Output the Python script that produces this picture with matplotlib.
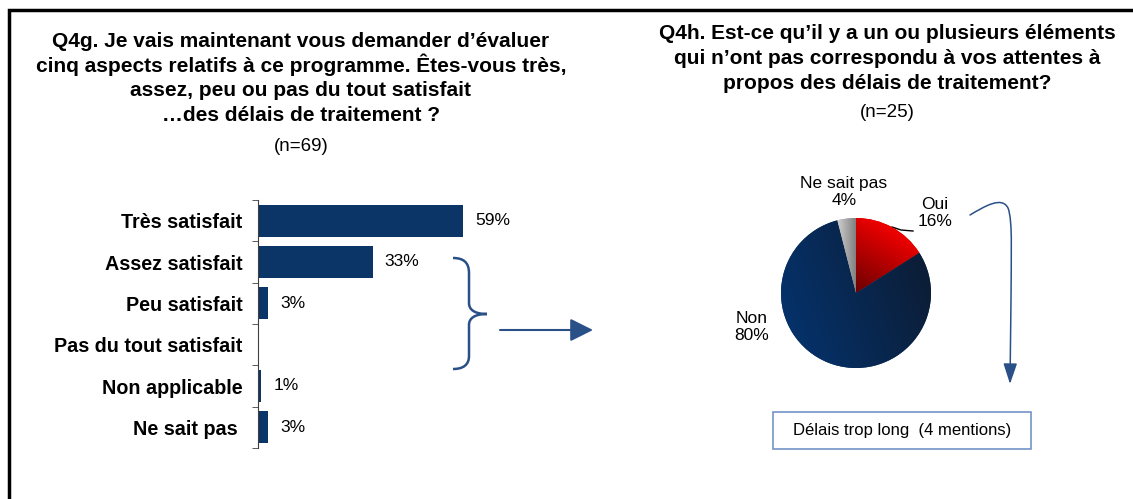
import numpy as np
import matplotlib
matplotlib.use('Agg')
import matplotlib.pyplot as plt
from matplotlib.path import Path
from matplotlib.patches import FancyArrowPatch, PathPatch, Rectangle
from matplotlib.colors import LinearSegmentedColormap

plt.rcParams['font.family'] = ['Liberation Sans', 'DejaVu Sans']

# Q4g - satisfaction bars
bar_labels = ['Très satisfait', 'Assez satisfait', 'Peu satisfait',
              'Pas du tout satisfait', 'Non applicable', 'Ne sait pas ']
bar_values = [59, 33, 3, 0, 1, 3]

# Q4h - pie
pie_labels = ['Oui', 'Non', 'Ne sait pas']
pie_values = [16, 80, 4]

title_left = ['Q4g. Je vais maintenant vous demander d\u2019évaluer',
              'cinq aspects relatifs à ce programme. Êtes-vous très,',
              'assez, peu ou pas du tout satisfait',
              '\u2026des délais de traitement ?']
n_left = '(n=69)'
title_right = ['Q4h. Est-ce qu\u2019il y a un ou plusieurs éléments',
               'qui n\u2019ont pas correspondu à vos attentes à',
               'propos des délais de traitement?']
n_right = '(n=25)'
note = 'Délais trop long  (4 mentions)'

navy = '#0A3566'
blue = '#2A5088'

W, H = 1133, 499
fig = plt.figure(figsize=(W / 100, H / 100), dpi=100)

# overlay axes in pixel coordinates (y down) for titles, arrows, frame
ax0 = fig.add_axes([0, 0, 1, 1])
ax0.set_xlim(0, W)
ax0.set_ylim(H, 0)
ax0.axis('off')

ax0.plot([8.5, 8.5, W], [H, 10, 10], color='black', lw=2.5,
         solid_joinstyle='miter', clip_on=False)

for i, line in enumerate(title_left):
    ax0.text(301, 47 + 24.5 * i, line, ha='center', va='baseline',
             fontsize=15, fontweight='bold')
ax0.text(301, 151, n_left, ha='center', va='baseline', fontsize=13.5)

for i, line in enumerate(title_right):
    ax0.text(887, 39 + 25 * i, line, ha='center', va='baseline',
             fontsize=15, fontweight='bold')
ax0.text(887, 117, n_right, ha='center', va='baseline', fontsize=13.5)

# bar chart
px = 3.475  # pixels per percent
ax = fig.add_axes([258 / W, (H - 448) / H, 60 * px / W, 248 / H])
y = np.arange(len(bar_values))
ax.barh(y, bar_values, height=0.77, color=navy)
ax.set_xlim(0, 60)
ax.set_ylim(len(y) - 0.5, -0.5)
for s in ['top', 'right', 'bottom']:
    ax.spines[s].set_visible(False)
ax.spines['left'].set_color('#404040')
ax.set_xticks([])
ax.set_yticks(y)
ax.set_yticklabels(bar_labels, fontsize=14.2, fontweight='bold')
ax.tick_params(axis='y', which='major', length=0, pad=11)
ax.set_yticks(np.arange(len(y) + 1) - 0.5, minor=True)
ax.tick_params(axis='y', which='minor', length=4.5, color='#404040')
ax.patch.set_visible(False)
for yi, v in zip(y, bar_values):
    if v > 0:
        ax.annotate(f'{v}%', (v, yi), xytext=(12, 0), textcoords='offset pixels',
                    va='center', fontsize=12.5)

# brace + arrow
brace = Path([(453, 258), (463, 258), (469, 262), (469, 273),
              (469, 303),
              (469, 310), (475, 314), (487, 314),
              (475, 314), (469, 318), (469, 325),
              (469, 356),
              (469, 365), (463, 369), (453, 369)],
             [Path.MOVETO, Path.CURVE4, Path.CURVE4, Path.CURVE4,
              Path.LINETO,
              Path.CURVE4, Path.CURVE4, Path.CURVE4,
              Path.CURVE4, Path.CURVE4, Path.CURVE4,
              Path.LINETO,
              Path.CURVE4, Path.CURVE4, Path.CURVE4])
ax0.add_patch(PathPatch(brace, fill=False, ec=blue, lw=1.8))
ax0.add_patch(FancyArrowPatch((500, 330), (593, 330),
                              arrowstyle='-|>,head_length=1.0,head_width=0.5',
                              mutation_scale=14, color=blue, lw=1.5,
                              shrinkA=0, shrinkB=0))

# pie
R = 75
axp = fig.add_axes([(856 - 80) / W, (H - 293 - 80) / H, 160 / W, 160 / H])
wedges, _ = axp.pie(pie_values, startangle=90, counterclock=False, radius=1,
                    colors=['#C00000', navy, '#A0A0A0'])
grads = [('#6A0000', '#F20000', 60), ('#05326A', '#0C1D36', 20),
         ('#CFCFCF', '#808080', 0)]
gx, gy = np.meshgrid(np.linspace(-1, 1, 400), np.linspace(-1, 1, 400))
for w, (c0, c1, a) in zip(wedges, grads):
    d = np.array([np.cos(np.radians(a)), np.sin(np.radians(a))])
    p = w.get_path().vertices @ d
    t = (gx * d[0] + gy * d[1] - p.min()) / (p.max() - p.min())
    cm = LinearSegmentedColormap.from_list('g', [c0, c1])
    im = axp.imshow(np.clip(t, 0, 1), cmap=cm, vmin=0, vmax=1,
                    extent=[-1, 1, -1, 1], origin='lower', zorder=3)
    im.set_clip_path(w)
axp.set_xlim(-80 / R, 80 / R)
axp.set_ylim(-80 / R, 80 / R)
axp.set_aspect('equal')
axp.axis('off')

pie_label_pos = [(935, 213), (752, 327), (844, 192)]
for (lx, ly), lab, v in zip(pie_label_pos, pie_labels, pie_values):
    ax0.text(lx, ly, f'{lab}\n{v}%', ha='center', va='center', fontsize=12.5)
ax0.plot([892, 901, 913], [227, 230, 231], color='black', lw=1)

# hook arrow to the note box
hook = Path([(970, 215), (985, 206), (1002, 196), (1008, 208),
             (1013, 220), (1011, 260), (1011, 300),
             (1010, 384)],
            [Path.MOVETO, Path.CURVE4, Path.CURVE4, Path.CURVE4,
             Path.CURVE4, Path.CURVE4, Path.CURVE4,
             Path.LINETO])
ax0.add_patch(FancyArrowPatch(path=hook,
                              arrowstyle='-|>,head_length=0.9,head_width=0.3',
                              mutation_scale=14, color=blue, lw=1.1))

ax0.add_patch(Rectangle((773, 412), 258, 37, fc='white', ec='#7394C6', lw=1.2))
ax0.text(902, 431, note, ha='center', va='center', fontsize=12)

fig.savefig('out.png', dpi=100)
